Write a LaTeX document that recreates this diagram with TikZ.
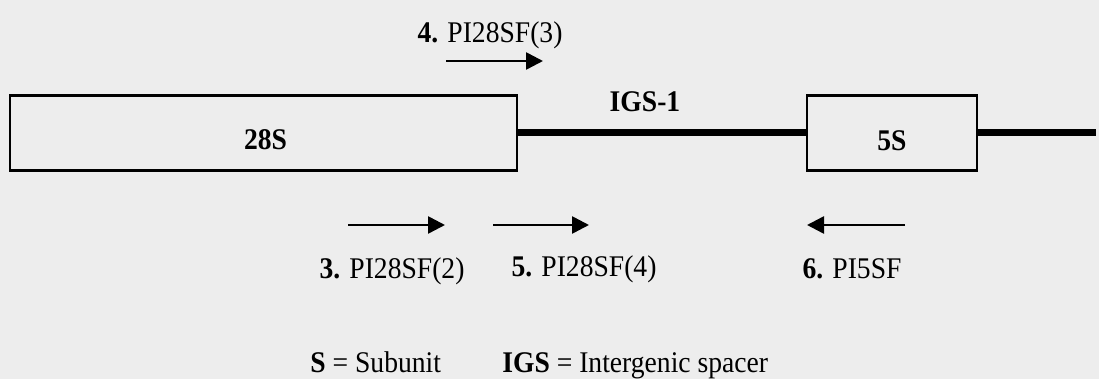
\documentclass[tikz,border=0pt]{standalone}
\usepackage{fontspec}
\setmainfont{Liberation Serif}[FakeStretch=0.92]
\usetikzlibrary{arrows.meta, positioning}
\tikzset{
  gene/.style={
    draw,
    rectangle,
    line width=1.3pt,
    minimum height=37.5pt,
    inner sep=0pt,
    outer sep=0pt
  },
  spacer/.style={
    line width=3.5pt
  },
  primer/.style={
    -{Triangle[length=8.5pt, width=8.5pt]},
    line width=1.3pt
  },
  lbl/.style={
    font=\fontsize{15}{17}\selectfont,
    inner sep=0pt,
    anchor=base
  }
}

\begin{document}
\begin{tikzpicture}[x=0.5pt, y=-0.5pt]

% --- Paper ---
\fill[black!7] (0,0) rectangle (1099,379);
\useasboundingbox (0,0) rectangle (1099,379);

% --- Genes and spacer ---
\node[gene, minimum width=253.5pt] (r28) at (263.5,133) {};
\node[gene, minimum width=85pt, right=145pt of r28] (r5) {};
\coordinate (tail) at (1096,133);

\draw[spacer] (r28.east) -- (r5.west);
\draw[spacer] (r5.east) -- (tail);

\node[lbl, anchor=center, xshift=1pt, yshift=-3.5pt] (t28) at (r28) {\textbf{28S}};
\node[lbl, anchor=center, yshift=-4pt] (t5) at (r5) {\textbf{5S}};
\node[lbl] (tigs) at (645,112) {\textbf{IGS-1}};

% --- Primers ---
\coordinate (a4s) at (446,61);
\coordinate (a4e) at (543,61);
\draw[primer] (a4s) -- (a4e);
\node[lbl] (p4) at (490,43) {\textbf{4.} PI28SF(3)};

\coordinate (a3s) at (348,225);
\coordinate (a3e) at (445,225);
\draw[primer] (a3s) -- (a3e);
\node[lbl] (p3) at (392,279) {\textbf{3.} PI28SF(2)};

\coordinate (a5s) at (493,225);
\coordinate (a5e) at (589,225);
\draw[primer] (a5s) -- (a5e);
\node[lbl] (p5) at (584,277) {\textbf{5.} PI28SF(4)};

\coordinate (a6s) at (905,225);
\coordinate (a6e) at (807,225);
\draw[primer] (a6s) -- (a6e);
\node[lbl] (p6) at (852,279) {\textbf{6.} PI5SF};

% --- Key ---
\node[lbl, anchor=base west] (keys) at (310,373) {\textbf{S} = Subunit};
\node[lbl, anchor=base west] (keyigs) at (502,373) {\textbf{IGS} = Intergenic spacer};

\end{tikzpicture}
\end{document}
